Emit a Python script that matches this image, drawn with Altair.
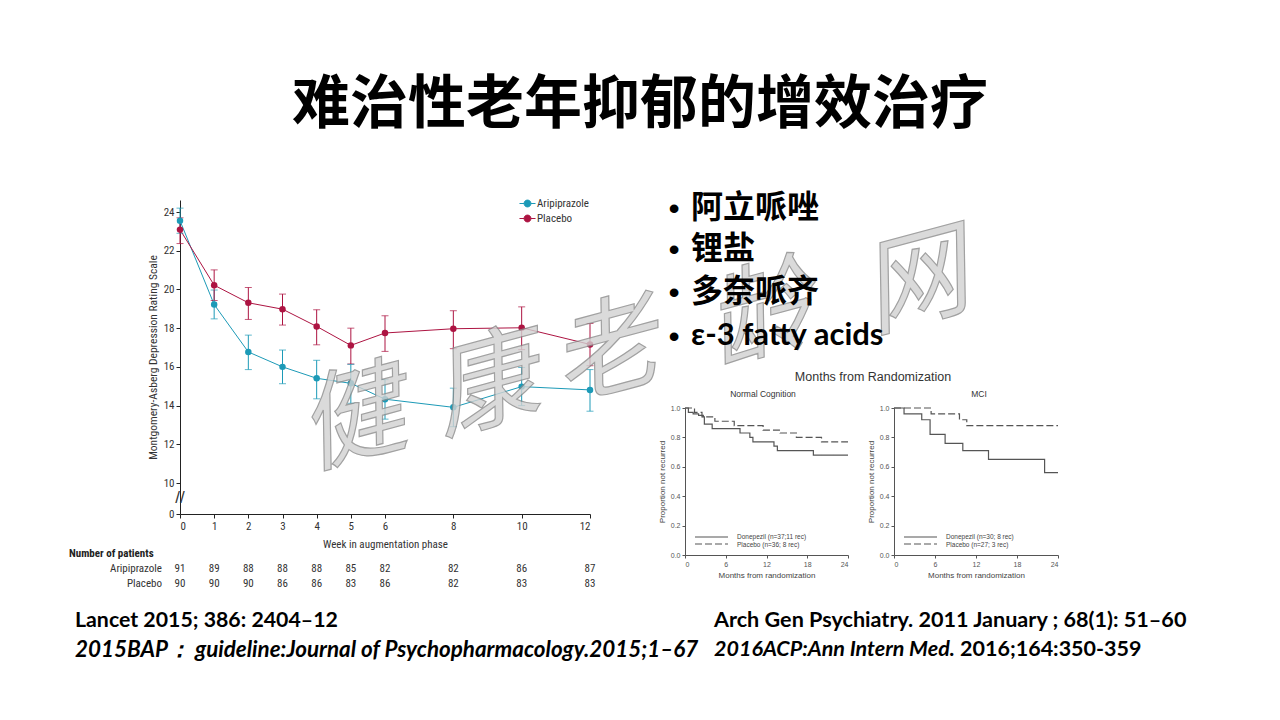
import altair as alt
import pandas as pd

# ---------------- data ----------------
weeks = [0, 1, 2, 3, 4, 5, 6, 8, 10, 12]
arip_mean = [23.55, 19.22, 16.77, 16.00, 15.41, 15.15, 14.33, 13.91, 14.98, 14.81]
arip_lo = [22.90, 18.48, 15.86, 15.13, 14.35, 14.12, 13.30, 12.91, 14.00, 13.71]
arip_hi = [24.20, 19.97, 17.64, 16.87, 16.34, 16.13, 15.34, 14.90, 15.97, 15.86]
plac_mean = [23.09, 20.22, 19.31, 18.98, 18.09, 17.11, 17.75, 17.97, 18.02, 17.16]
plac_lo = [22.37, 19.43, 18.45, 18.16, 17.14, 16.15, 16.80, 16.94, 16.89, 16.06]
plac_hi = [23.70, 21.01, 20.10, 19.76, 18.95, 18.00, 18.64, 18.90, 19.10, 18.24]
arip_n = [91, 89, 88, 88, 88, 85, 82, 82, 86, 87]
plac_n = [90, 90, 90, 86, 86, 83, 86, 82, 83, 83]
series_names = ["Aripiprazole", "Placebo"]
series_colors = ["#1c9ab7", "#ad1442"]
y_ticks = [8.4, 10, 12, 14, 16, 18, 20, 22, 24]

nc_don_t = [0, 0.5, 1.2, 2.0, 2.7, 2.85, 4.0, 8.1, 9.55, 10.0, 13.1, 13.6, 18.9, 24]
nc_don_s = [1.0, 0.97, 0.96, 0.95, 0.94, 0.89, 0.86, 0.83, 0.80, 0.77, 0.74, 0.71, 0.68, 0.68]
nc_pla_t = [0, 1.4, 2.5, 4.4, 7.25, 11.5, 14.0, 16.4, 20.1, 24]
nc_pla_s = [1.0, 0.97, 0.94, 0.91, 0.88, 0.85, 0.83, 0.80, 0.77, 0.77]
mci_don_t = [0, 1.47, 4.06, 5.28, 7.48, 10.07, 13.83, 22.04, 24]
mci_don_s = [1.0, 0.96, 0.92, 0.82, 0.76, 0.71, 0.65, 0.56, 0.56]
mci_pla_t = [0, 5.43, 9.58, 10.65, 24]
mci_pla_s = [1.0, 0.96, 0.92, 0.88, 0.88]
nc_labels = ["Donepezil (n=37;11 rec)", "Placebo (n=36; 8 rec)"]
mci_labels = ["Donepezil (n=30; 8 rec)", "Placebo (n=27; 3 rec)"]
km_months = [0, 6, 12, 18, 24]
km_props = [0.0, 0.2, 0.4, 0.6, 0.8, 1.0]

title_text = "难治性老年抑郁的增效治疗"
bullets = ["阿立哌唑", "锂盐", "多奈哌齐", "ε-3 fatty acids"]
watermark = ["健", "康", "老", "龄", "网"]

NARROW = "Liberation Sans Narrow, Roboto Condensed, Liberation Sans, sans-serif"
ARIAL = "Liberation Sans, Arial, sans-serif"
CJK = "Noto Sans CJK SC"
CAL = "Lato, Open Sans, sans-serif"

# ---------------- main chart ----------------
rows = []
for i, w in enumerate(weeks):
    rows.append(dict(week=w, series="Aripiprazole", mean=arip_mean[i], lo=arip_lo[i], hi=arip_hi[i]))
    rows.append(dict(week=w, series="Placebo", mean=plac_mean[i], lo=plac_lo[i], hi=plac_hi[i]))
df_main = pd.DataFrame(rows)

cscale = alt.Scale(domain=series_names, range=series_colors)
legend_path = "M-1.75,0H-0.75M0.75,0H1.75M0.75,0A0.75,0.75 0 1,1 -0.75,0A0.75,0.75 0 1,1 0.75,0"
main_legend = alt.Legend(orient="none", legendX=522, legendY=198, title=None,
                         symbolType=legend_path, symbolSize=84, symbolStrokeWidth=1,
                         symbolOpacity=1,
                         labelFont=NARROW, labelFontSize=11, labelColor="#333",
                         rowPadding=3, padding=0, labelOffset=4)
COLOR = alt.Color("series:N", scale=cscale, legend=main_legend)

xax = alt.Axis(orient="bottom", offset=-206, values=weeks, grid=False, tickSize=4,
               labelFontSize=11, labelFont=NARROW, labelColor="#333", domainColor="#222",
               tickColor="#222", labelPadding=2, title="Week in augmentation phase",
               titleFont=NARROW, titleFontSize=11, titleFontWeight="normal", titleColor="#333",
               titlePadding=7)
yax = alt.Axis(orient="left", offset=-180, values=y_ticks, grid=False, tickSize=4,
               labelExpr="datum.value < 9 ? '0' : datum.label",
               labelFontSize=11, labelFont=NARROW, labelColor="#333", domainColor="#222",
               tickColor="#222", labelPadding=2, title="Montgomery-Asberg Depression Rating Scale",
               titleFont=NARROW, titleFontSize=11.5, titleFontWeight="normal", titleColor="#333",
               titlePadding=5)
yscale = alt.Scale(domain=[8.4, 24.62], range=[514, 200], nice=False, zero=False)
X = alt.X("week:Q", scale=alt.Scale(domain=[0, 12], range=[180, 590], nice=False, zero=False), axis=xax)
Y = alt.Y("mean:Q", scale=yscale, axis=yax)

base = alt.Chart(df_main)
lines = base.mark_line(strokeWidth=1).encode(x=X, y=Y, color=COLOR)
errs = base.mark_errorbar(ticks={"size": 7}, thickness=1).encode(
    x=X, y=alt.Y("lo:Q", scale=yscale, axis=yax), y2="hi:Q", color=COLOR)
pts = base.mark_circle(size=42, opacity=1).encode(x=X, y=Y, color=COLOR)

df_n = pd.DataFrame({"week": weeks, "arip": arip_n, "plac": plac_n})
n_arip = alt.Chart(df_n).mark_text(fontSize=11, font=NARROW, color="#333").encode(
    x=X, y=alt.value(569), text="arip:N")
n_plac = alt.Chart(df_n).mark_text(fontSize=11, font=NARROW, color="#333").encode(
    x=X, y=alt.value(584), text="plac:N")

main = alt.layer(lines, errs, pts, n_arip, n_plac)

# ---------------- KM charts ----------------
def km_panel(t1, s1, t2, s2, labels, xr, offset_x):
    d = pd.DataFrame({"t": t1 + t2, "s": s1 + s2,
                      "g": [labels[0]] * len(t1) + [labels[1]] * len(t2)})
    kx = alt.X("t:Q", scale=alt.Scale(domain=[0, 24], range=xr, nice=False, zero=False),
               axis=alt.Axis(orient="bottom", offset=-165, values=km_months, grid=False, tickSize=3,
                             labelFontSize=7, labelFont=ARIAL, labelColor="#555", domainColor="#555",
                             tickColor="#555", labelPadding=2, title="Months from randomization",
                             titleFont=ARIAL, titleFontSize=8, titleFontWeight="normal",
                             titleColor="#444", titlePadding=4))
    ky = alt.Y("s:Q", scale=alt.Scale(domain=[0, 1], range=[555, 408], nice=False, zero=False),
               axis=alt.Axis(orient="left", offset=-offset_x, values=km_props, format=".1f", grid=False,
                             tickSize=3, labelFontSize=7, labelFont=ARIAL, labelColor="#555",
                             domainColor="#555", tickColor="#555", labelPadding=2,
                             title="Proportion not recurred", titleFont=ARIAL, titleFontSize=8,
                             titleFontWeight="normal", titleColor="#444", titlePadding=4))
    return alt.Chart(d).mark_line(interpolate="step-after", color="#555", strokeWidth=1.2).encode(
        x=kx, y=ky,
        strokeDash=alt.StrokeDash("g:N", scale=alt.Scale(domain=labels, range=[[1, 0], [7, 3]]),
                                  legend=None))

km_nc = km_panel(nc_don_t, nc_don_s, nc_pla_t, nc_pla_s, nc_labels, [685, 848], 685)
km_mci = km_panel(mci_don_t, mci_don_s, mci_pla_t, mci_pla_s, mci_labels, [894, 1058], 894)

# ---------------- decorative text ----------------
def txt(s, x, y, size, font, weight="normal", style="normal", color="black", align="left",
        baseline="middle", angle=0, opacity=1, stroke=None, sw=0):
    kw = dict(fontSize=size, font=font, fontWeight=weight, fontStyle=style, color=color,
              align=align, baseline=baseline, angle=angle, opacity=opacity)
    if stroke:
        kw.update(stroke=stroke, strokeWidth=sw)
    return alt.Chart(pd.DataFrame({"t": [s]})).mark_text(**kw).encode(
        text="t:N", x=alt.value(x), y=alt.value(y))

def seg(x1, x2, y, dash):
    return alt.Chart(pd.DataFrame({"a": [0]})).mark_rule(color="#555", strokeWidth=1.1, strokeDash=dash).encode(
        x=alt.value(x1), x2=alt.value(x2), y=alt.value(y))

deco = [
    txt(title_text, 640, 106, 58, CJK, weight="bold", align="center"),
    txt("Number of patients", 69, 554, 11, NARROW, weight="bold", color="#222"),
    txt("Aripiprazole", 162, 569, 11, NARROW, color="#333", align="right"),
    txt("Placebo", 162, 584, 11, NARROW, color="#333", align="right"),
    txt("//", 180, 498, 17, ARIAL, color="#333", align="center"),
    txt("Months from Randomization", 873, 377, 12.5, ARIAL, color="#333", align="center"),
    txt("Normal Cognition", 763, 394, 8.5, ARIAL, color="#333", align="center"),
    txt("MCI", 979, 394, 8.5, ARIAL, color="#333", align="center"),
    seg(695, 728, 537, [1, 0]), seg(695, 728, 544, [7, 3]),
    seg(904, 937, 537, [1, 0]), seg(904, 937, 544, [7, 3]),
    txt(nc_labels[0], 737, 537, 6.5, ARIAL, color="#444"),
    txt(nc_labels[1], 737, 544.5, 6.5, ARIAL, color="#444"),
    txt(mci_labels[0], 946, 537, 6.5, ARIAL, color="#444"),
    txt(mci_labels[1], 946, 544.5, 6.5, ARIAL, color="#444"),
]

wm_pos = [(352, 422), (485, 388), (605, 355), (760, 318), (915, 285)]
wm = []
for ch, (x, y) in zip(watermark, wm_pos):
    wm.append(txt(ch, x, y, 105, CJK, style="italic", color="#d2d2d2", align="center",
                  angle=345, opacity=0.8, stroke="#8a8a8a", sw=1.2))

top = []
by = [208, 249, 292, 336]
for i, b in enumerate(bullets):
    top.append(txt("•", 674, by[i] + 1, 32, ARIAL, color="black", align="center"))
    if i < 3:
        top.append(txt(b, 691, by[i], 32, CJK, weight="bold"))
    else:
        top.append(txt(b, 691, by[i], 31, CAL, weight="bold"))

top += [
    txt("Lancet 2015; 386: 2404–12", 75, 621, 21.3, CAL, weight="bold"),
    txt("2015BAP：  guideline:Journal of Psychopharmacology.2015;1–67", 75, 650, 22.4, CAL,
        weight="bold", style="italic"),
    txt("Arch Gen Psychiatry. 2011 January ; 68(1): 51–60", 714, 621, 21.6, CAL, weight="bold"),
    txt("2016ACP:Ann Intern Med.", 714, 650, 21.5, CAL, weight="bold", style="italic"),
    txt("2016;164:350-359", 960, 650, 21.5, CAL, weight="bold"),
]

chart = alt.layer(main, km_nc, km_mci, *deco, *wm, *top).resolve_scale(
    x="independent", y="independent", color="independent", strokeDash="independent"
).properties(
    width=1280, height=720, padding=0, autosize=alt.AutoSizeParams(type="none"),
    background="white"
).configure_view(stroke=None)

chart.save("out.html", embed_options={"renderer": "svg", "actions": False})
